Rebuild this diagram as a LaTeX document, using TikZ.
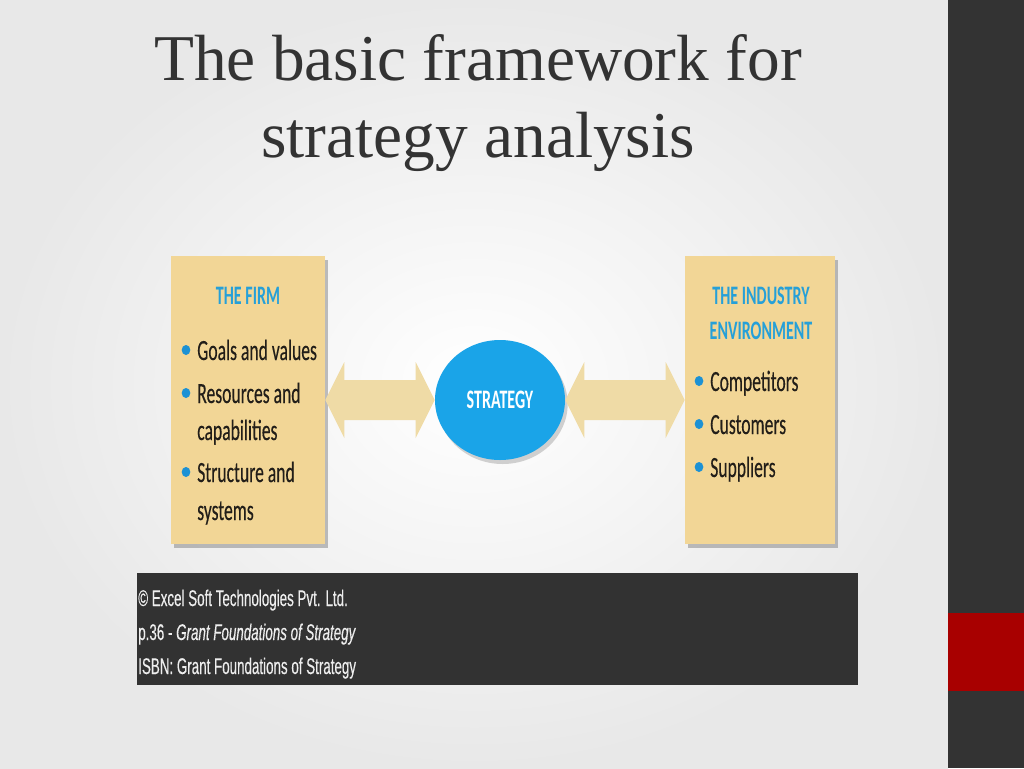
\documentclass[tikz,border=0pt]{standalone}
\usepackage{fontspec}
\setmainfont{Liberation Serif}
\newfontfamily\chartfont[FakeStretch=0.6]{Carlito}
\newfontfamily\itemfont[FakeStretch=0.6, FakeBold=0.25]{Carlito}
\newfontfamily\notefont[FakeStretch=0.59, FakeBold=0.3]{Liberation Sans}
\usetikzlibrary{positioning, shapes.geometric, shadows, calc}

\definecolor{titlegray}{RGB}{51,51,51}
\definecolor{bargray}{RGB}{51,51,51}
\definecolor{accentred}{RGB}{168,0,0}
\definecolor{panelfill}{RGB}{242,214,150}
\definecolor{linkfill}{RGB}{239,219,166}
\definecolor{headblue}{RGB}{38,160,216}
\definecolor{dotblue}{RGB}{28,145,212}
\definecolor{strategyblue}{RGB}{26,164,232}
\definecolor{inkdark}{RGB}{34,30,25}
\definecolor{bandgray}{RGB}{50,50,50}
\definecolor{notewhite}{RGB}{238,238,238}

\tikzset{
  panel/.style={rectangle, fill=panelfill, inner sep=0pt,
    drop shadow={shadow xshift=2pt, shadow yshift=-3pt, opacity=0.5}},
  panelhead/.style={inner sep=0pt, anchor=base, text=headblue,
    font=\chartfont\bfseries\fontsize{20}{24}\selectfont},
  itemtext/.style={inner sep=0pt, anchor=base west, text=inkdark,
    font=\itemfont\fontsize{22}{26}\selectfont},
  itemdot/.style={ellipse, fill=dotblue, inner sep=0pt, minimum width=6.5pt, minimum height=7.5pt},
  titleline/.style={inner sep=0pt, anchor=base, text=titlegray,
    font=\fontsize{49}{58}\selectfont},
  noteline/.style={inner sep=0pt, anchor=base west, text=notewhite,
    font=\notefont\fontsize{17}{20}\selectfont}
}

% fat two-headed link, tip at #1 and tip at #2
\newcommand{\widelink}[2]{%
  \fill[linkfill] (#1) -- ([shift={(19,-38)}]#1) -- ([shift={(19,-20)}]#1)
    -- ([shift={(-19,-20)}]#2) -- ([shift={(-19,-38)}]#2) -- (#2)
    -- ([shift={(-19,38)}]#2) -- ([shift={(-19,20)}]#2)
    -- ([shift={(19,20)}]#1) -- ([shift={(19,38)}]#1) -- cycle;}

\begin{document}
\begin{tikzpicture}[x=0.75pt, y=-0.75pt]

\useasboundingbox (0,0) rectangle (1024,768);

% slide background and side bar
\shade[inner color=white, outer color=black!9] (0,0) rectangle (948,768);
\fill[bargray] (948,0) rectangle (1024,768);
\fill[accentred] (948,613) rectangle (1024,691);

\node[titleline] (title1) at (478,80) {The basic framework for};
\node[titleline] (title2) at (478,157) {strategy analysis};

% the two panels and the strategy disc
\node[panel, minimum width=115.5pt, minimum height=216pt] (firm) at (248,400) {};
\node[panel, minimum width=112.5pt, minimum height=216pt] (industry) at (760,400) {};

\node[ellipse, fill=strategyblue, minimum width=97.5pt, minimum height=90pt,
  drop shadow={shadow xshift=2pt, shadow yshift=-3pt, opacity=0.35},
  text=white, font=\chartfont\bfseries\fontsize{20}{24}\selectfont] (strategy) at (500,400) {STRATEGY};

\widelink{firm.east}{strategy.west}
\widelink{strategy.east}{industry.west}

% left panel text
\node[panelhead] (firmhead) at (248,304) {THE FIRM};
\node[itemdot] (dotgoals) at (186,350) {};
\node[itemtext] (goals) at (197,360) {Goals and values};
\node[itemdot] (dotres) at (186,393) {};
\node[itemtext] (res) at (197,403) {Resources and};
\node[itemtext] (cap) at (197,440) {capabilities};
\node[itemdot] (dotstruct) at (186,472) {};
\node[itemtext] (struct) at (197,482) {Structure and};
\node[itemtext] (sys) at (197,520) {systems};

% right panel text
\node[panelhead] (indhead1) at (761,304) {THE INDUSTRY};
\node[panelhead] (indhead2) at (761,339) {ENVIRONMENT};
\node[itemdot] (dotcomp) at (699,381) {};
\node[itemtext] (comp) at (710,391) {Competitors};
\node[itemdot] (dotcust) at (699,424) {};
\node[itemtext] (cust) at (710,434) {Customers};
\node[itemdot] (dotsupp) at (699,467) {};
\node[itemtext] (supp) at (710,477) {Suppliers};

% source band
\node[rectangle, fill=bandgray, anchor=north west, inner sep=0pt,
  minimum width=540.75pt, minimum height=84pt] (band) at (137,573) {};
\node[noteline] (note1) at (138,606) {\textcopyright{} Excel Soft Technologies Pvt. Ltd.};
\node[noteline] (note2) at (138,640) {p.36 - \textit{Grant Foundations of Strategy}};
\node[noteline] (note3) at (138,674) {ISBN: Grant Foundations of Strategy};

\end{tikzpicture}
\end{document}
